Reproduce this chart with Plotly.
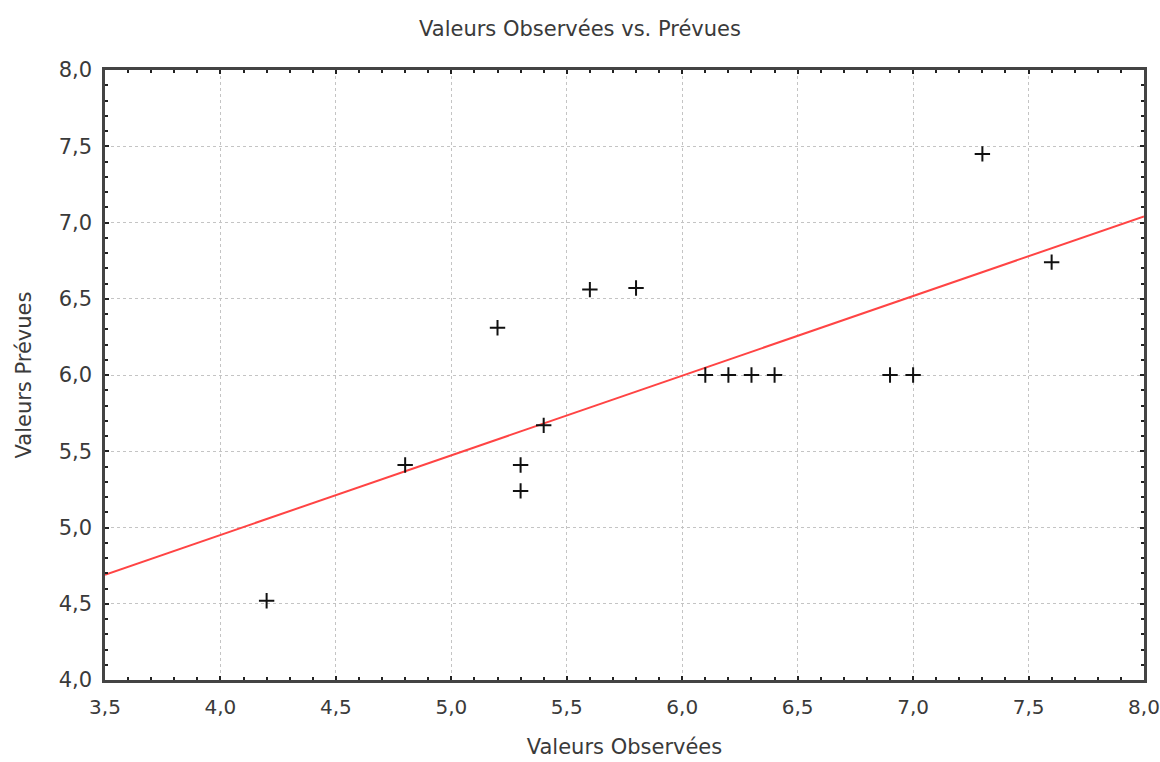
import plotly.graph_objects as go

# Observed vs predicted values
observed = [4.2, 4.8, 5.2, 5.3, 5.3, 5.4, 5.6, 5.8, 6.1, 6.2, 6.3, 6.4, 6.9, 7.0, 7.3, 7.6]
predicted = [4.52, 5.41, 6.31, 5.41, 5.24, 5.67, 6.56, 6.57, 6.0, 6.0, 6.0, 6.0, 6.0, 6.0, 7.45, 6.74]

# Fitted regression line endpoints
fit_x = [3.5, 8.0]
fit_y = [4.69, 7.04]

title_text = "Valeurs Observées vs. Prévues"
x_title = "Valeurs Observées"
y_title = "Valeurs Prévues"

font_family = "DejaVu Sans"
text_color = "#3a3a3a"

fig = go.Figure()
fig.add_trace(go.Scatter(
    x=fit_x, y=fit_y, mode="lines",
    line=dict(color="#ff4444", width=2),
    showlegend=False, hoverinfo="skip",
))
fig.add_trace(go.Scatter(
    x=observed, y=predicted, mode="markers",
    marker=dict(symbol="cross-thin-open", size=11, color="#111111",
                line=dict(color="#111111", width=2)),
    showlegend=False,
))

axis_common = dict(
    showline=True, linecolor="#444444", linewidth=2.5, mirror="ticks",
    ticks="inside", ticklen=4, tickwidth=1.5, tickcolor="#222222",
    showgrid=True, gridcolor="#c4c4c4", griddash="dot", gridwidth=1,
    zeroline=False, tickformat=".1f", automargin=False,
    minor=dict(dtick=0.1, ticks="inside", ticklen=3, tickcolor="#222222",
               tickwidth=1.5, showgrid=False),
    dtick=0.5,
)

fig.update_xaxes(range=[3.5, 8.0], tick0=3.5, ticklabelstandoff=7,
                 tickfont=dict(family=font_family, size=20, color=text_color),
                 title=dict(text=x_title, standoff=22,
                            font=dict(family=font_family, size=21, color=text_color)),
                 **axis_common)
fig.update_yaxes(range=[4.0, 8.0], tick0=4.0, ticklabelstandoff=6,
                 tickfont=dict(family=font_family, size=21, color=text_color),
                 title=dict(text=y_title, standoff=22,
                            font=dict(family=font_family, size=21, color=text_color)),
                 **axis_common)

fig.update_layout(
    width=1160, height=762,
    margin=dict(l=105, r=16, t=70, b=82),
    paper_bgcolor="white", plot_bgcolor="white",
    separators=", ",
    title=dict(text=title_text, x=0.5, xanchor="center", y=0.963, yanchor="middle",
               font=dict(family=font_family, size=21, color=text_color)),
)

fig.write_html("out.html")
